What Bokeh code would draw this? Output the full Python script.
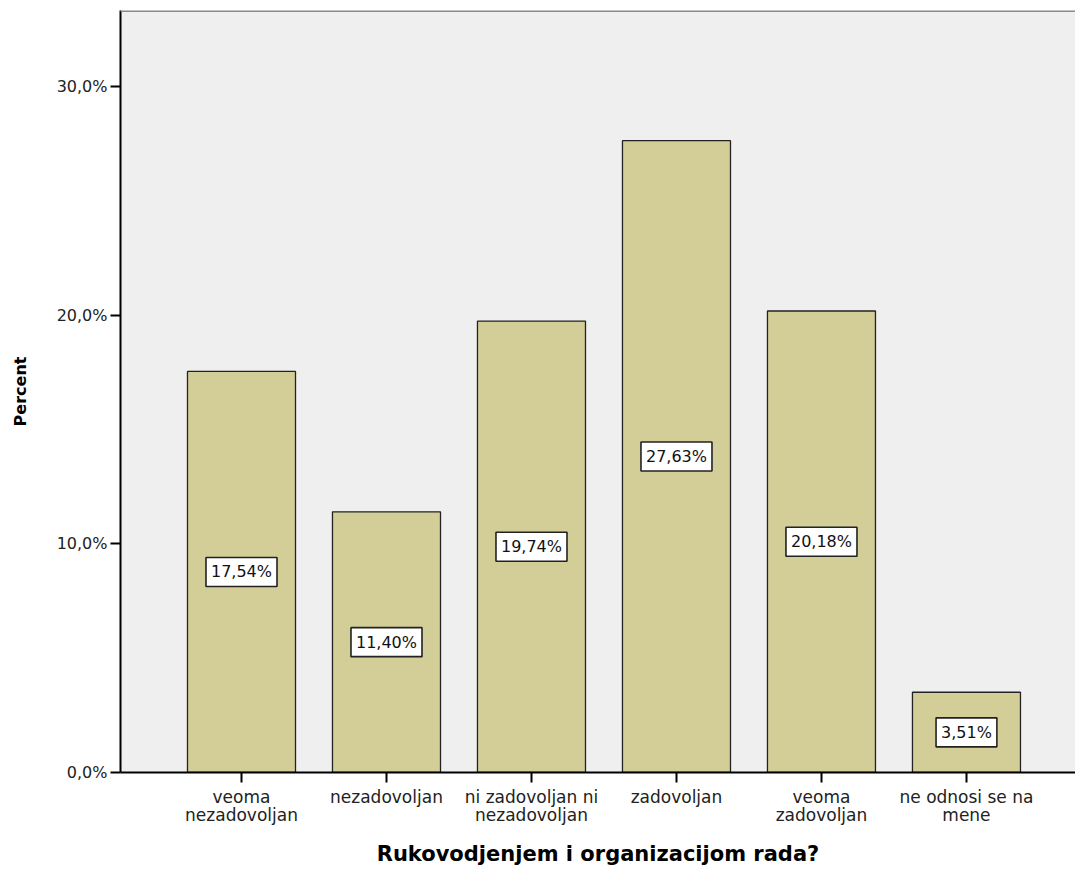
from bokeh.plotting import figure
from bokeh.models import ColumnDataSource, Range1d, FixedTicker, Span
from bokeh.core.properties import value
from bokeh.embed import file_html
from bokeh.resources import INLINE

categories = ["veoma\nnezadovoljan", "nezadovoljan", "ni zadovoljan ni\nnezadovoljan",
              "zadovoljan", "veoma\nzadovoljan", "ne odnosi se na\nmene"]
percents = [17.54, 11.40, 19.74, 27.63, 20.18, 3.51]
y_ticks = [0, 10, 20, 30]
y_tick_labels = ["0,0%", "10,0%", "20,0%", "30,0%"]

xs = list(range(len(categories)))
labels = [("%.2f%%" % v).replace(".", ",") for v in percents]
src = ColumnDataSource(dict(x=xs, top=percents, mid=[v / 2 for v in percents], label=labels))

YMAX = 33.32
p = figure(width=1075, height=872, output_backend="svg", toolbar_location=None,
           x_range=Range1d(-0.8345, 5.752), y_range=Range1d(0, YMAX),
           min_border_left=120, min_border_top=10, min_border_right=0, min_border_bottom=100)
p.background_fill_color = "#EFEFEF"
p.border_fill_color = "white"
p.outline_line_color = None
p.xgrid.visible = False
p.ygrid.visible = False

p.add_layout(Span(location=YMAX, dimension="width", line_color="#8C8C8C", line_width=3))

p.vbar(x="x", top="top", width=0.745, bottom=0, source=src,
       fill_color="#D3CE97", line_color="#222222", line_width=1.3)

p.text(x="x", y="mid", text="label", source=src, text_align="center", text_baseline="middle",
       text_font=value("DejaVu Sans"), text_font_size="16px", text_color="#111111",
       background_fill_color="white", border_line_color="#222222", border_line_width=1.6,
       padding=5)

p.xaxis.ticker = FixedTicker(ticks=xs)
p.xaxis.major_label_overrides = {i: c for i, c in zip(xs, categories)}
p.yaxis.ticker = FixedTicker(ticks=y_ticks)
p.yaxis.major_label_overrides = {t: l for t, l in zip(y_ticks, y_tick_labels)}

for ax in (p.xaxis, p.yaxis):
    ax.axis_line_color = "black"
    ax.axis_line_width = 2
    ax.major_tick_line_color = "black"
    ax.major_tick_line_width = 2
    ax.major_tick_in = 0
    ax.major_tick_out = 10
    ax.minor_tick_line_color = None
    ax.major_label_text_font = "DejaVu Sans"
    ax.major_label_text_color = "#222222"
    ax.axis_label_text_font = "DejaVu Sans"
    ax.axis_label_text_font_style = "bold"
    ax.axis_label_text_color = "black"

p.xaxis.major_label_text_font_size = "17px"
p.yaxis.major_label_text_font_size = "16px"
p.xaxis.axis_label = "Rukovodjenjem i organizacijom rada?"
p.yaxis.axis_label = "Percent"
p.xaxis.axis_label_text_font_size = "21px"
p.yaxis.axis_label_text_font_size = "16px"
p.xaxis.major_label_text_line_height = 0.9
p.xaxis.axis_label_standoff = 14
p.yaxis.axis_label_standoff = 24
p.yaxis.major_label_standoff = 3
p.xaxis.major_label_standoff = 4

open("out.html", "w").write(file_html(p, INLINE))
